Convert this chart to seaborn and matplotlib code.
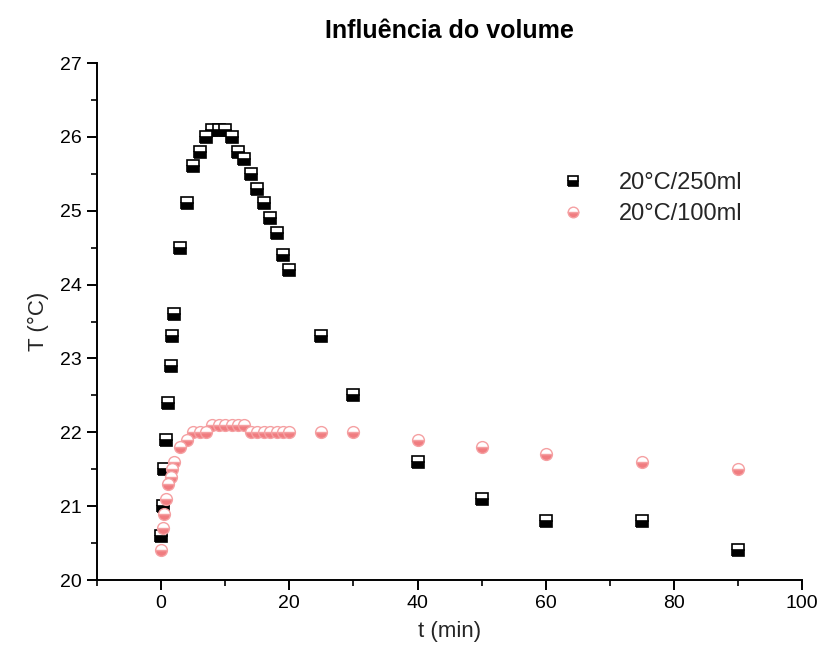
import numpy as np
import pandas as pd
import matplotlib
matplotlib.use("Agg")
import matplotlib.pyplot as plt
from matplotlib.ticker import MultipleLocator, AutoMinorLocator
import seaborn as sns

t_min = [0, 0.25, 0.5, 0.75, 1, 1.5, 1.75, 2, 3, 4, 5, 6, 7, 8, 9, 10, 11, 12, 13,
         14, 15, 16, 17, 18, 19, 20, 25, 30, 40, 50, 60, 75, 90]
T_250 = [20.6, 21.0, 21.5, 21.9, 22.4, 22.9, 23.3, 23.6, 24.5, 25.1, 25.6, 25.8, 26.0,
         26.1, 26.1, 26.1, 26.0, 25.8, 25.7, 25.5, 25.3, 25.1, 24.9, 24.7, 24.4, 24.2,
         23.3, 22.5, 21.6, 21.1, 20.8, 20.8, 20.4]
T_100 = [20.4, 20.7, 20.9, 21.1, 21.3, 21.4, 21.5, 21.6, 21.8, 21.9, 22.0, 22.0, 22.0,
         22.1, 22.1, 22.1, 22.1, 22.1, 22.1, 22.0, 22.0, 22.0, 22.0, 22.0, 22.0, 22.0,
         22.0, 22.0, 21.9, 21.8, 21.7, 21.6, 21.5]
labels = ["20°C/250ml", "20°C/100ml"]
title = "Influência do volume"
xlabel = "t (min)"
ylabel = "T (°C)"

sns.set_style("ticks")
plt.rcParams['font.family'] = ['Liberation Sans', 'DejaVu Sans']

fig = plt.figure(figsize=(8.22, 6.64), dpi=100)
ax = fig.add_axes([0.118, 0.1265, 0.858, 0.7785])

df250 = pd.DataFrame({"t": t_min, "T": T_250})
df100 = pd.DataFrame({"t": t_min, "T": T_100})

sns.lineplot(data=df250, x="t", y="T", ax=ax, estimator=None, sort=False,
             linestyle="", marker="s", markersize=8, color="black",
             markerfacecolor="black", markerfacecoloralt="white",
             fillstyle="bottom", markeredgecolor="black", markeredgewidth=1.2,
             label=labels[0])
sns.lineplot(data=df100, x="t", y="T", ax=ax, estimator=None, sort=False,
             linestyle="", marker="o", markersize=8.5, color="#f07c80",
             markerfacecolor="#f07c80", markerfacecoloralt="white",
             fillstyle="bottom", markeredgecolor="#f5a0a2", markeredgewidth=1.0,
             label=labels[1])

ax.set_xlim(-10, 100)
ax.set_ylim(20, 27)
ax.xaxis.set_major_locator(MultipleLocator(20))
ax.xaxis.set_minor_locator(AutoMinorLocator(2))
ax.yaxis.set_major_locator(MultipleLocator(1))
ax.yaxis.set_minor_locator(AutoMinorLocator(2))
sns.despine(ax=ax)
for s in ["left", "bottom"]:
    ax.spines[s].set_linewidth(1.4)
    ax.spines[s].set_color("black")
ax.tick_params(which="major", direction="out", length=7, width=1.4,
               labelsize=14, colors="black", pad=4)
ax.tick_params(which="minor", direction="out", length=4, width=1.2, colors="black")

ax.set_xlabel(xlabel, fontsize=16, labelpad=6)
ax.set_ylabel(ylabel, fontsize=16, labelpad=8)
ax.set_title(title, fontsize=18, fontweight="bold", color="black",
             family=["Liberation Sans Narrow", "Liberation Sans", "DejaVu Sans"], pad=18)

leg = ax.legend(loc="upper left", bbox_to_anchor=(0.62, 0.83), frameon=False,
                fontsize=17, handletextpad=1.2, labelspacing=0.38,
                handlelength=1.5, markerscale=0.9)

fig.savefig("out.png", dpi=100)
